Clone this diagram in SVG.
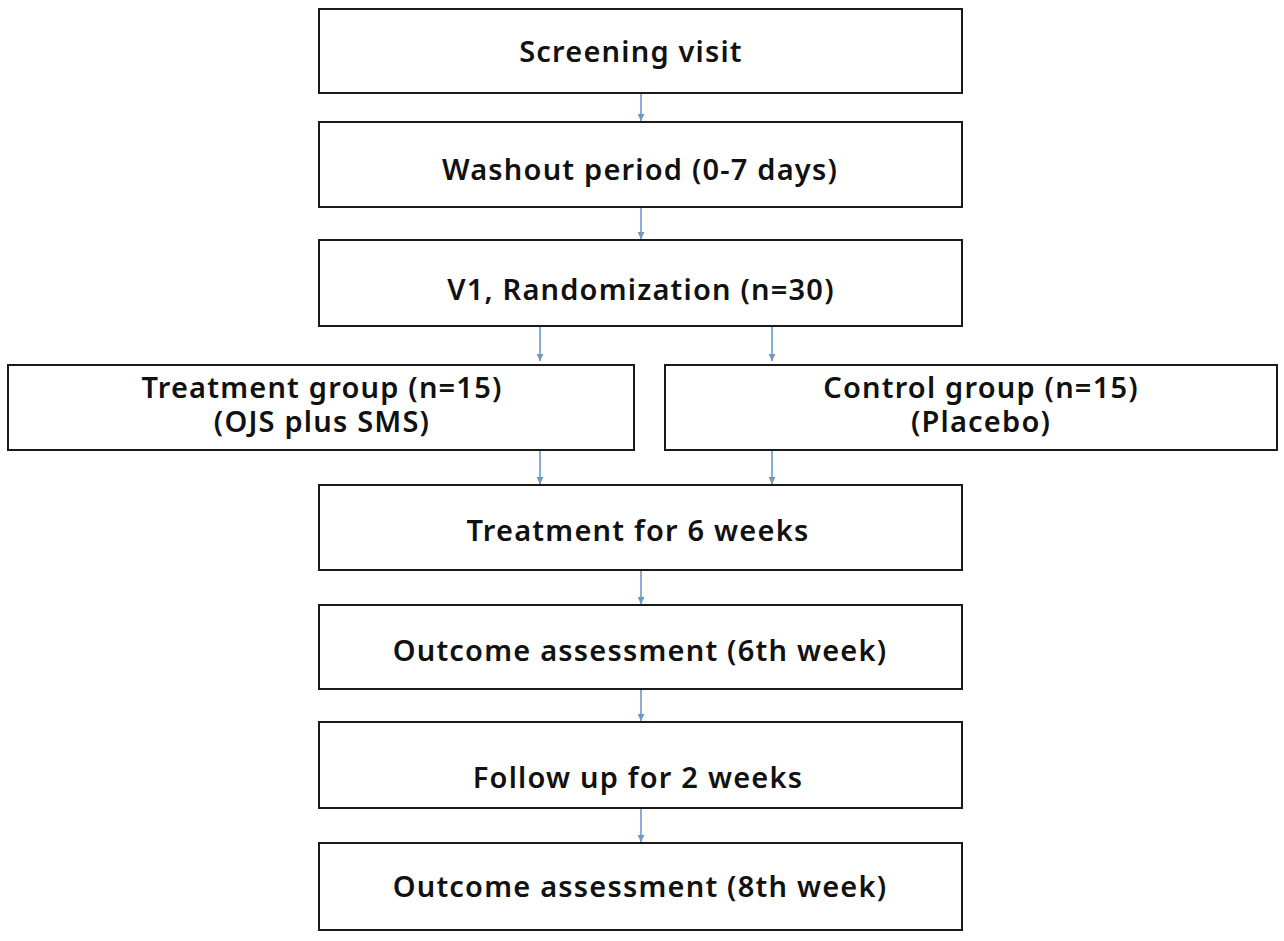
<svg xmlns="http://www.w3.org/2000/svg" width="1284" height="941" viewBox="0 0 1284 941">
<style>
.box{fill:#fff;stroke:#1a1a1a;stroke-width:2}
.t{font-family:"Noto Sans","Liberation Sans",sans-serif;font-weight:600;font-size:29px;letter-spacing:1.2px;fill:#111;text-anchor:middle}
.c{stroke:#7099c2;stroke-width:1.6;fill:none;marker-end:url(#ah)}
</style>
<defs>
<marker id="ah" viewBox="0 0 10 10" refX="10" refY="5" markerWidth="7" markerHeight="7" markerUnits="userSpaceOnUse" orient="auto">
<path d="M0,0 L10,5 L0,10 z" fill="#7099c2"/>
</marker>
</defs>
<rect width="1284" height="941" fill="#fff"/>
<g id="connectors">
<line class="c" x1="641" y1="93" x2="641" y2="121"/>
<line class="c" x1="641" y1="207" x2="641" y2="239"/>
<line class="c" x1="540" y1="326" x2="540" y2="361"/>
<line class="c" x1="772" y1="326" x2="772" y2="361"/>
<line class="c" x1="540" y1="450" x2="540" y2="484"/>
<line class="c" x1="772" y1="450" x2="772" y2="484"/>
<line class="c" x1="641" y1="570" x2="641" y2="604"/>
<line class="c" x1="641" y1="689" x2="641" y2="721"/>
<line class="c" x1="641" y1="808" x2="641" y2="842"/>
</g>
<g id="n1"><rect class="box" x="319" y="9" width="643" height="84"/><text class="t" x="631" y="62">Screening visit</text></g>
<g id="n2"><rect class="box" x="319" y="122" width="643" height="85"/><text class="t" x="640" y="180">Washout period (0-7 days)</text></g>
<g id="n3"><rect class="box" x="319" y="240" width="643" height="86"/><text class="t" x="641" y="300">V1, Randomization (n=30)</text></g>
<g id="n4"><rect class="box" x="8" y="365" width="626" height="85"/><text class="t" x="322" y="398">Treatment group (n=15)</text><text class="t" x="322" y="432">(OJS plus SMS)</text></g>
<g id="n5"><rect class="box" x="665" y="365" width="612" height="85"/><text class="t" x="981" y="398">Control group (n=15)</text><text class="t" x="981" y="432">(Placebo)</text></g>
<g id="n6"><rect class="box" x="319" y="485" width="643" height="85"/><text class="t" x="638" y="541">Treatment for 6 weeks</text></g>
<g id="n7"><rect class="box" x="319" y="605" width="643" height="84"/><text class="t" x="640" y="661">Outcome assessment (6th week)</text></g>
<g id="n8"><rect class="box" x="319" y="722" width="643" height="86"/><text class="t" x="638" y="788">Follow up for 2 weeks</text></g>
<g id="n9"><rect class="box" x="319" y="843" width="643" height="87"/><text class="t" x="640" y="897">Outcome assessment (8th week)</text></g>
</svg>
